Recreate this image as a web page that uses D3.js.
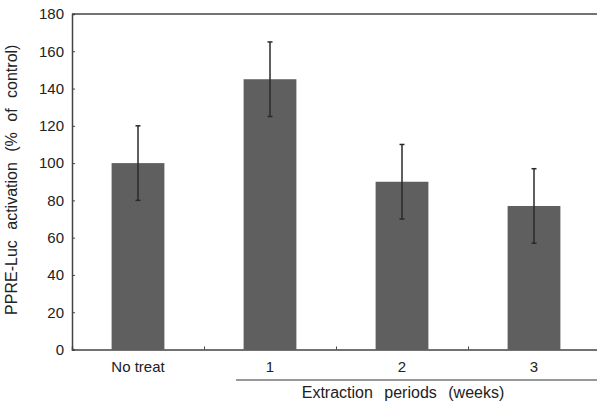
<!DOCTYPE html>
<html>
<head>
<meta charset="utf-8">
<script src="https://cdn.jsdelivr.net/npm/d3@7"></script>
<style>
  body { margin: 0; background: #fff; }
  text { font-family: "Liberation Sans", Arial, sans-serif; fill: #222; }
</style>
</head>
<body>
<script>
var categories = ["No treat", "1", "2", "3"];
var values = [100, 145, 90, 77];
var errors = [20, 20, 20, 20];
var yTicks = [0, 20, 40, 60, 80, 100, 120, 140, 160, 180];

var margin = { top: 14, right: -3, bottom: 60, left: 72 },
    outerWidth = 597,
    outerHeight = 409,
    width = outerWidth - margin.left - margin.right,
    height = 349.5 - margin.top;

var svg = d3.select("body").append("svg").attr("width", outerWidth).attr("height", outerHeight);
var g = svg.append("g").attr("transform", "translate(" + margin.left + "," + margin.top + ")");

var x = d3.scaleBand().domain(categories).range([0, width]).paddingInner(0.6).paddingOuter(0.3);
var xEdge = d3.scaleLinear().domain([0, categories.length]).range([0, width]);
var y = d3.scaleLinear().domain([0, 180]).range([height, 0]);

// frame top
g.append("line").attr("x1", 0).attr("x2", width).attr("y1", 0).attr("y2", 0)
  .attr("stroke", "#444").attr("stroke-width", 1.5);

// bars
g.selectAll("rect.bar").data(values).enter().append("rect")
  .attr("class", "bar")
  .attr("x", function (d, i) { return x(categories[i]); })
  .attr("width", x.bandwidth())
  .attr("y", function (d) { return y(d); })
  .attr("height", function (d) { return height - y(d); })
  .attr("fill", "#5f5f5f");

// error bars
var eb = g.selectAll("g.err").data(values).enter().append("g").attr("class", "err")
  .attr("transform", function (d, i) { return "translate(" + (x(categories[i]) + x.bandwidth() / 2) + ",0)"; });
eb.append("line").attr("y1", function (d, i) { return y(d + errors[i]); })
  .attr("y2", function (d, i) { return y(d - errors[i]); })
  .attr("stroke", "#2a2a2a").attr("stroke-width", 1.5);
eb.append("line").attr("x1", -2.5).attr("x2", 2.5)
  .attr("y1", function (d, i) { return y(d + errors[i]); })
  .attr("y2", function (d, i) { return y(d + errors[i]); })
  .attr("stroke", "#2a2a2a").attr("stroke-width", 1.5);
eb.append("line").attr("x1", -2.5).attr("x2", 2.5)
  .attr("y1", function (d, i) { return y(d - errors[i]); })
  .attr("y2", function (d, i) { return y(d - errors[i]); })
  .attr("stroke", "#2a2a2a").attr("stroke-width", 1.5);

// y axis
var yAxis = d3.axisLeft(y).tickValues(yTicks).tickSize(-3).tickPadding(8);
var yAxisGroup = g.append("g").classed("y axis", true).call(yAxis);
yAxisGroup.select(".domain").attr("stroke", "#444").attr("stroke-width", 1.5);
yAxisGroup.selectAll(".tick line").attr("stroke", "#444");
yAxisGroup.selectAll("text").attr("font-size", 15).attr("fill", "#222");

// x axis: ticks between categories
var xAxis = d3.axisBottom(xEdge).tickValues([1, 2, 3]).tickSize(-3).tickFormat("");
var xAxisGroup = g.append("g").classed("x axis", true)
  .attr("transform", "translate(0," + height + ")").call(xAxis);
xAxisGroup.select(".domain").attr("stroke", "#444").attr("stroke-width", 1.5);
xAxisGroup.selectAll(".tick line").attr("stroke", "#444");

// category labels
g.selectAll("text.cat").data(categories).enter().append("text")
  .attr("class", "cat")
  .attr("x", function (d) { return x(d) + x.bandwidth() / 2; })
  .attr("y", height + 22.5)
  .attr("text-anchor", "middle").attr("font-size", 15)
  .text(function (d) { return d; });

// group underline for extraction periods
g.append("line")
  .attr("x1", x("1") + x.bandwidth() / 2 - 34).attr("x2", x("3") + x.bandwidth() / 2 + 72)
  .attr("y1", height + 30.5).attr("y2", height + 30.5)
  .attr("stroke", "#333").attr("stroke-width", 1.2);

g.append("text")
  .attr("x", (x("1") + x("3") + x.bandwidth()) / 2 + 1)
  .attr("y", height + 48)
  .attr("text-anchor", "middle").attr("font-size", 16).attr("word-spacing", 7)
  .text("Extraction periods (weeks)");

// y axis title
g.append("text")
  .attr("transform", "translate(-55," + (height / 2 - 2) + ") rotate(-90)")
  .attr("text-anchor", "middle").attr("font-size", 16).attr("word-spacing", 6)
  .text("PPRE-Luc activation (% of control)");
</script>
</body>
</html>
